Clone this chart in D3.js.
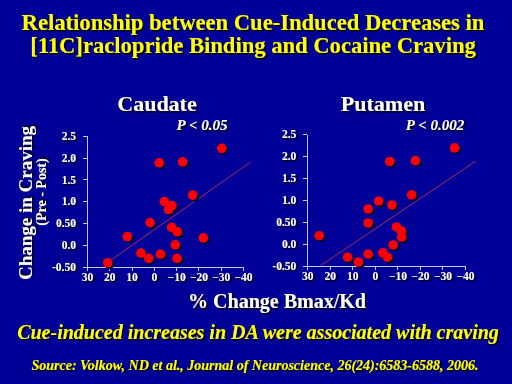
<!DOCTYPE html>
<meta charset="utf-8">
<head>
  <script src="https://cdn.jsdelivr.net/npm/d3@7/dist/d3.min.js"></script>
  <style>
    html, body { margin: 0; padding: 0; background: #000099; }
    svg { display: block; }
    .serif { font-family: "Liberation Serif", "Times New Roman", serif; font-weight: bold; }
    .axis path, .axis line { stroke: #c8c8ec; stroke-width: 1; shape-rendering: crispEdges; }
    .axis text { fill: #ffffff; font-family: "Liberation Serif", serif; font-weight: bold; font-size: 11.5px; }
  </style>
</head>
<body>
<script>
// datos: % cambio Bmax/Kd (x) vs cambio en craving (y)
var caudateX = [20.7, 11.9, 5.8, 2.3, 1.7, -2.4, -3.0, -4.7, -6.6, -8.1, -8.0, -10.5, -9.6, -10.4, -12.9, -17.4, -22.2, -30.5];
var caudateY = [-0.41, 0.19, -0.19, -0.31, 0.51, 1.88, -0.21, 0.99, 0.81, 0.9, 0.4, 0.3, 0.0, -0.31, 1.9, 1.14, 0.16, 2.21];
var putamenX = [24.7, 12.1, 7.3, 3.0, 3.0, 3.0, -1.7, -3.6, -5.6, -6.6, -7.6, -8.1, -9.6, -11.8, -11.9, -16.3, -18.0, -35.4];
var putamenY = [0.19, -0.30, -0.41, 0.80, 0.48, -0.23, 0.98, -0.2, -0.30, 1.88, 0.89, -0.02, 0.39, 0.3, 0.16, 1.12, 1.9, 2.19];

// recta de regresion (extremos en unidades de datos)
var caudateFit = [[21.2, -0.42], [-43.5, 1.90]];
var putamenFit = [[24.1, -0.49], [-44.8, 1.89]];

var xTicks = [30, 20, 10, 0, -10, -20, -30, -40];
var yTicks = [-0.5, 0, 0.5, 1.0, 1.5, 2.0, 2.5];
var yTickLabels = ["-0.50", "0.0", "0.50", "1.0", "1.5", "2.0", "2.5"];

var panelNames = ["Caudate", "Putamen"];
var pLabels = ["P < 0.05", "P < 0.002"];

var W = 512, H = 384;

var svg = d3.select("body").append("svg")
  .attr("width", W).attr("height", H);

svg.append("rect").attr("width", W).attr("height", H).attr("fill", "#000099");

// sombra para textos
var defs = svg.append("defs");
defs.append("filter").attr("id", "sh")
  .attr("x", "-10%").attr("y", "-10%").attr("width", "130%").attr("height", "140%")
  .append("feDropShadow")
  .attr("dx", 1.5).attr("dy", 1.5).attr("stdDeviation", 0)
  .attr("flood-color", "#000000").attr("flood-opacity", 1);

function txt(x, y, s, size, color, italic) {
  return svg.append("text")
    .attr("class", "serif")
    .attr("x", x).attr("y", y)
    .attr("text-anchor", "middle")
    .attr("filter", "url(#sh)")
    .style("font-size", size + "px")
    .style("font-style", italic ? "italic" : "normal")
    .attr("fill", color)
    .text(s);
}

// titulo
txt(253, 30, "Relationship between Cue-Induced Decreases in", 22.6, "#ffff00");
txt(253, 53, "[11C]raclopride Binding and Cocaine Craving", 22.6, "#ffff00");

// paneles
var panels = [
  { name: panelNames[0], p: pLabels[0], xs: caudateX, ys: caudateY, fit: caudateFit,
    left: 87, right: 243, top: 135.7, bottom: 266.7, titleX: 157, pX: 202 },
  { name: panelNames[1], p: pLabels[1], xs: putamenX, ys: putamenY, fit: putamenFit,
    left: 307.3, right: 465, top: 134.3, bottom: 266, titleX: 383, pX: 435 }
];

panels.forEach(function(pn) {
  var x = d3.scaleLinear().domain([30, -40]).range([pn.left, pn.right]);
  var y = d3.scaleLinear().domain([-0.5, 2.5]).range([pn.bottom, pn.top]);

  var g = svg.append("g");

  g.append("g")
    .attr("class", "axis")
    .attr("transform", "translate(0," + pn.bottom + ")")
    .call(d3.axisBottom(x).tickValues(xTicks).tickSize(4).tickSizeOuter(0).tickPadding(2)
      .tickFormat(function(d) { return d3.format("d")(d); }))
    .selectAll("text").attr("filter", "url(#sh)");

  g.append("g")
    .attr("class", "axis")
    .attr("transform", "translate(" + pn.left + ",0)")
    .call(d3.axisLeft(y).tickValues(yTicks).tickSize(4).tickSizeOuter(0).tickPadding(7)
      .tickFormat(function(d, i) { return yTickLabels[i]; }))
    .selectAll("text").attr("filter", "url(#sh)");

  // recta de ajuste
  g.append("line")
    .attr("x1", x(pn.fit[0][0])).attr("y1", y(pn.fit[0][1]))
    .attr("x2", x(pn.fit[1][0])).attr("y2", y(pn.fit[1][1]))
    .attr("stroke", "#a8285c").attr("stroke-width", 1);

  var pts = pn.xs.map(function(v, i) { return [v, pn.ys[i]]; });

  // sombra de puntos
  g.selectAll(".shadow").data(pts).enter().append("circle")
    .attr("class", "shadow")
    .attr("cx", function(d) { return x(d[0]) + 1.8; })
    .attr("cy", function(d) { return y(d[1]) + 1.8; })
    .attr("r", 4.8)
    .attr("fill", "#000033");

  g.selectAll(".dot").data(pts).enter().append("circle")
    .attr("class", "dot")
    .attr("cx", function(d) { return x(d[0]); })
    .attr("cy", function(d) { return y(d[1]); })
    .attr("r", 4.8)
    .attr("fill", "#ff0000");

  txt(pn.titleX, 111, pn.name, 22, "#ffffff");
  txt(pn.pX, 130, pn.p, 15, "#ffffff", true);
});

// etiquetas de ejes
txt(0, 0, "Change in Craving", 19, "#ffffff")
  .attr("transform", "translate(32,203) rotate(-90)");
txt(0, 0, "(Pre - Post)", 14, "#ffffff")
  .attr("transform", "translate(46,192) rotate(-90)");

txt(277, 308, "% Change Bmax/Kd", 20, "#ffffff");
txt(258, 339, "Cue-induced increases in DA were associated with craving", 20, "#ffff00", true);
txt(255, 370, "Source: Volkow, ND et al., Journal of Neuroscience, 26(24):6583-6588, 2006.", 14, "#ffff00", true);
</script>
</body>
